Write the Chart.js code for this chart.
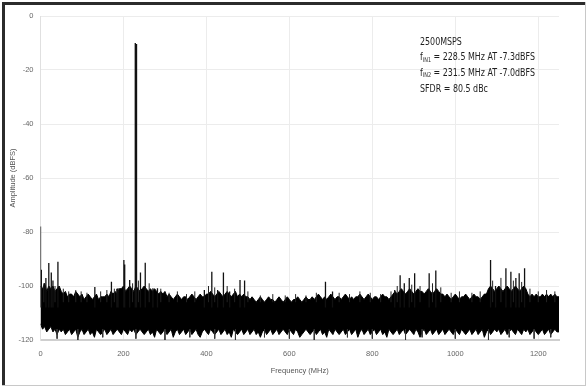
<!DOCTYPE html>
<html>
<head>
<meta charset="utf-8">
<script src="https://cdn.jsdelivr.net/npm/chart.js@4.4.1/dist/chart.umd.min.js"></script>
<style>
  body { margin: 0; background: #fff; }
  #wrap { position: relative; width: 587px; height: 386px; }
</style>
</head>
<body>
<div id="wrap"><canvas id="fft" width="587" height="386"></canvas></div>
<script>
// noise floor envelope, one value every 5 MHz from 0 to 1250 MHz
const noiseStep = 5;
const noiseTop = [
  -100,-101,-99,-102,-100,-101,-100,-102,-101,-100,-102,
  -103,-102,-104,-103,-103,-104,-102,-103,-104,-103,-105,-104,-103,-104,-105,-104,-103,-105,-104,-104,
  -104,-103,-104,-102,-103,-102,-103,-101,
  -101,-100,-102,-101,-100,-101,-102,-100,-101,-102,-101,-100,-101,-102,-101,-102,-101,-102,-103,-102,-103,-102,
  -104,-103,-104,-105,-104,-103,-104,-105,-104,-104,-105,-104,-103,-104,-105,-104,-103,-104,-104,-103,
  -103,-102,-103,-104,-103,-102,-103,-104,-103,-102,-103,-104,-103,-102,-104,-103,-104,-103,-104,-104,
  -105,-104,-105,-106,-105,-104,-105,-106,-105,-104,-105,-105,-106,-105,-104,-105,-106,-105,-104,-105,
  -106,-105,-105,-104,-105,-106,-105,-104,-105,-105,
  -104,-105,-104,-103,-104,-105,-104,-105,-104,-103,-104,-105,-104,-104,-105,-104,-103,-104,-105,-104,
  -105,-104,-104,-103,-104,-105,-104,-103,-104,-105,-104,-104,-105,-104,-103,-104,-104,-105,-104,-103,
  -102,-103,-102,-101,-102,-103,-102,-101,-102,-103,-102,-101,-102,-102,-103,-102,-101,-102,-103,-102,
  -101,-102,-103,-103,-104,-103,
  -104,-105,-104,-103,-104,-105,-104,-104,-103,-104,-105,-104,-103,-104,-104,-105,-104,-103,-103,
  -101,-100,-101,-102,-101,-100,-101,-102,-101,-100,-101,-102,-101,-100,-101,-102,-101,-100,-101,
  -103,-104,-103,-104,-103,-104,-104,-103,-104,-103,-104,-103,-104,-103,-104,-104
];
const noiseBottom = [
  -114,-116,-115,-117,-116,-115,-117,-116,-118,-116,
  -117,-116,-118,-117,-116,-118,-117,-116,-119,-117,
  -116,-118,-117,-116,-118,-117,-119,-116,-117,-118,
  -117,-116,-118,-117,-116,-118,-117,-116,-117,-118,
  -116,-117,-118,-116,-117,-116,-118,-117,-116,-117,
  -118,-117,-116,-118,-117,-119,-116,-117,-118,-117,
  -116,-118,-117,-116,-119,-117,-116,-118,-117,-116,
  -118,-117,-116,-118,-117,-116,-118,-119,-117,-116,
  -117,-118,-116,-117,-118,-117,-116,-118,-117,-116,
  -118,-117,-119,-116,-117,-118,-117,-116,-118,-117,
  -116,-118,-117,-116,-118,-117,-119,-117,-116,-118,
  -117,-116,-118,-117,-116,-118,-117,-116,-117,-118,
  -116,-117,-118,-116,-117,-119,-118,-117,-116,-117,
  -118,-117,-116,-118,-117,-116,-118,-117,-119,-116,
  -117,-118,-116,-117,-118,-117,-116,-118,-117,-116,
  -118,-117,-116,-119,-117,-116,-118,-117,-116,-118,
  -117,-116,-118,-117,-116,-118,-117,-119,-116,-117,
  -118,-117,-116,-118,-117,-116,-118,-117,-116,-117,
  -118,-116,-117,-119,-117,-116,-118,-117,-116,-118,
  -117,-116,-118,-117,-116,-118,-117,-116,-117,-118,
  -116,-117,-118,-116,-117,-118,-117,-116,-118,-117,
  -116,-118,-117,-116,-119,-117,-116,-118,-117,-116,
  -117,-116,-118,-117,-116,-118,-117,-116,-117,-118,
  -116,-117,-118,-116,-117,-116,-118,-117,-116,-117,
  -118,-117,-116,-118,-117,-116,-118,-117,-116,-117,
  -117
];

// tones and spurs (MHz, dBFS)
const spurFreq  = [0, 2, 13, 20, 26, 30, 42, 131, 171, 184, 187, 201, 203, 215, 228.5, 231.5, 241, 252.5, 271, 282,
                   395, 413, 427, 441, 456, 481, 492, 687, 704, 854, 867, 877, 889, 902, 937, 953,
                   1085, 1097, 1122, 1134, 1146, 1154, 1167];
const spurLevel = [-78, -94, -97, -91.5, -95, -98, -91, -100.4, -98.4, -101, -100.8, -90.4, -92, -97.8, -10, -10.4, -95, -91.4, -100.8, -100.8,
                   -101.5, -94.7, -101.5, -95, -102, -97.8, -98, -98.4, -102, -101.5, -96, -99, -97, -95.3, -95.3, -94.3,
                   -90.4, -100, -93.4, -94.7, -97, -95.3, -93.4];

// small noise grass on top of the floor
const grassFreq  = [8, 35, 55, 68, 85, 98, 112, 145, 160, 178, 222, 236, 262, 290, 310, 330, 352, 372, 405, 420,
                    450, 468, 500, 530, 560, 590, 615, 640, 665, 720, 745, 770, 795, 820, 845, 860, 895, 915,
                    945, 965, 990, 1010, 1040, 1060, 1090, 1110, 1140, 1160, 1180, 1200, 1220, 1240];
const grassLevel = [-99, -100, -101, -102, -101.5, -102, -102.5, -102, -101.5, -101, -99, -98, -99, -101, -102.5, -102, -103, -102, -100, -100.5,
                    -100, -101, -102, -103.5, -103, -103.5, -103, -103.5, -102.5, -102.5, -103, -102, -102.5, -103, -102, -100, -99.5, -100,
                    -99, -100.5, -102.5, -102, -102.5, -102, -98, -97, -98, -98.5, -101, -102, -101.5, -102];

// dips below the floor
const dipFreq  = [40, 90, 150, 230, 300, 360, 420, 470, 540, 600, 660, 740, 800, 880, 920, 1000, 1080, 1130, 1190, 1230];
const dipLevel = [-119.5, -120, -119, -119.5, -120, -119, -119.5, -120, -119, -119.5, -120, -119, -119.5, -120, -119, -119.5, -120, -119, -119.5, -119];

const xTicks = [0, 200, 400, 600, 800, 1000, 1200];
const yTicks = [0, -20, -40, -60, -80, -100, -120];

const noteLines = [
  ["2500MSPS", "", ""],
  ["f", "IN1", " = 228.5 MHz AT -7.3dBFS"],
  ["f", "IN2", " = 231.5 MHz AT -7.0dBFS"],
  ["SFDR = 80.5 dBc", "", ""]
];

let topPts = noiseTop.map((v, i) => ({ x: i * noiseStep, y: v }));
let bottomPts = noiseBottom.map((v, i) => ({ x: i * noiseStep, y: v }));

let stems = (freqs, levels, base) => {
  let pts = [];
  freqs.forEach((f, i) => {
    pts.push({ x: f, y: base });
    pts.push({ x: f, y: levels[i] });
    pts.push({ x: f, y: null });
  });
  return pts;
};

const noteFont = '"Liberation Sans Narrow", "DejaVu Sans Condensed", "Liberation Sans", sans-serif';

let framePlugin = {
  id: "frame",
  beforeDraw(chart) {
    let ctx = chart.ctx;
    ctx.save();
    ctx.fillStyle = "#fff";
    ctx.fillRect(0, 0, chart.width, chart.height);
    ctx.fillStyle = "#2b2b2b";
    ctx.fillRect(2, 2, 584, 3);
    ctx.fillRect(2, 2, 3, 383);
    ctx.fillStyle = "#c8c8c8";
    ctx.fillRect(585, 2, 1, 384);
    ctx.fillRect(2, 385, 584, 1);
    ctx.restore();
  },
  afterDraw(chart) {
    let ctx = chart.ctx;
    ctx.save();
    ctx.fillStyle = "#1e1e1e";
    ctx.textBaseline = "middle";
    ctx.translate(420, 0);
    ctx.scale(0.84, 1);
    let ys = [42, 57.5, 73, 89];
    noteLines.forEach((ln, i) => {
      let x = 0;
      ctx.font = "10.5px " + noteFont;
      ctx.fillText(ln[0], x, ys[i]);
      x += ctx.measureText(ln[0]).width;
      if (ln[1]) {
        ctx.font = "6.5px " + noteFont;
        ctx.fillText(ln[1], x, ys[i] + 2.5);
        x += ctx.measureText(ln[1]).width;
        ctx.font = "10.5px " + noteFont;
        ctx.fillText(ln[2], x, ys[i]);
      }
    });
    ctx.restore();
  }
};

const ctx = document.getElementById("fft").getContext("2d");

let fftChart = new Chart(ctx, {
  type: "line",
  data: {
    datasets: [
      {
        label: "spurs",
        data: stems(spurFreq, spurLevel, -108),
        borderColor: "#111",
        borderWidth: 1.3,
        pointRadius: 0,
        spanGaps: false,
        fill: false,
      },
      {
        label: "grass",
        data: stems(grassFreq, grassLevel, -106),
        borderColor: "#222",
        borderWidth: 1,
        pointRadius: 0,
        spanGaps: false,
        fill: false,
      },
      {
        label: "dips",
        data: stems(dipFreq, dipLevel, -116),
        borderColor: "#333",
        borderWidth: 1,
        pointRadius: 0,
        spanGaps: false,
        fill: false,
      },
      {
        label: "noise top",
        data: topPts,
        borderColor: "#000",
        backgroundColor: "#000",
        borderWidth: 1,
        pointRadius: 0,
        fill: "+1",
      },
      {
        label: "noise bottom",
        data: bottomPts,
        borderColor: "#000",
        borderWidth: 1,
        pointRadius: 0,
        fill: false,
      },
    ],
  },
  options: {
    responsive: false,
    animation: false,
    layout: { padding: { left: 4, top: 16, right: 28, bottom: 6 } },
    plugins: {
      legend: { display: false },
      tooltip: { enabled: false },
    },
    scales: {
      x: {
        type: "linear",
        min: 0,
        max: 1250,
        afterBuildTicks: (s) => { s.ticks = xTicks.map((v) => ({ value: v })); },
        afterFit: (s) => { s.height = 40; },
        ticks: { color: "#666", font: { size: 7.5, family: "Liberation Sans" }, padding: 9, maxRotation: 0, callback: (v) => String(v) },
        grid: { color: "#ececec", drawTicks: false },
        border: { color: "#cfcfcf", width: 2 },
        title: { display: true, text: "Frequency (MHz)", color: "#555", font: { size: 7.5, family: "Liberation Sans" }, padding: { top: 0, bottom: 4.5 } },
      },
      y: {
        min: -120,
        max: 0,
        afterBuildTicks: (s) => { s.ticks = yTicks.map((v) => ({ value: v })); },
        afterFit: (s) => { s.width = 36.5; },
        ticks: { color: "#666", font: { size: 7.5, family: "Liberation Sans" }, padding: 7, callback: (v) => String(v) },
        grid: { color: "#ececec", drawTicks: false },
        border: { color: "#e0e0e0" },
        title: { display: true, text: "Amplitude (dBFS)", color: "#555", font: { size: 7.5, family: "Liberation Sans" }, padding: { top: 4.5, bottom: 0 } },
      },
    },
  },
  plugins: [framePlugin],
});
</script>
</body>
</html>
